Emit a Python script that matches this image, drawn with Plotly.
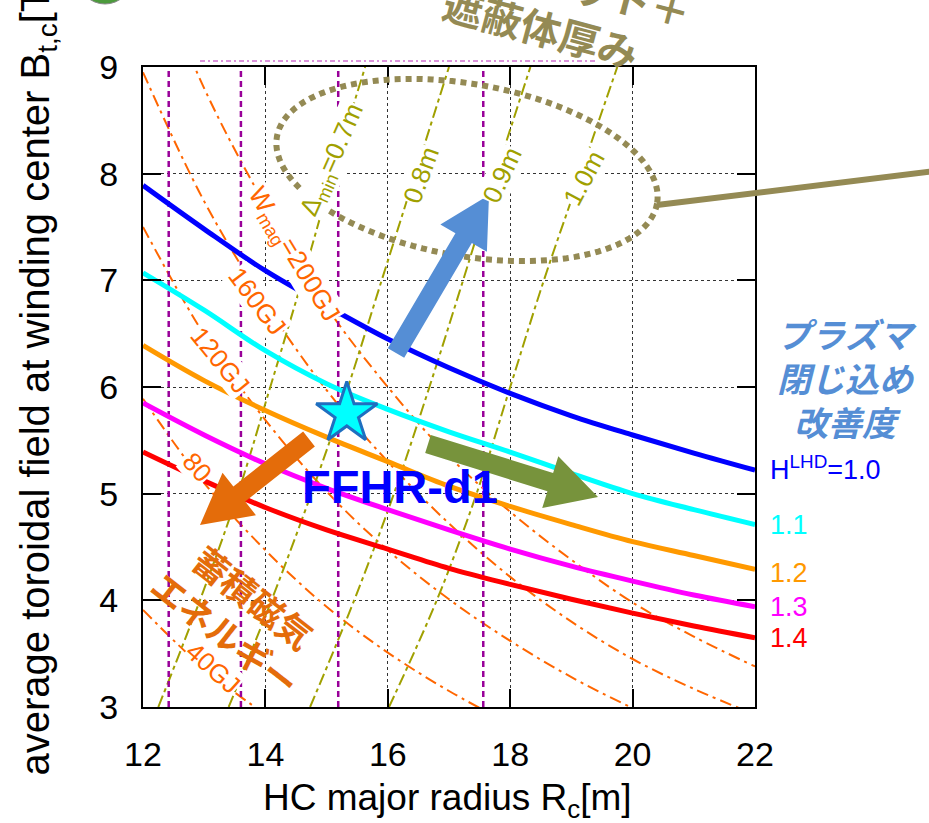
import numpy as np
import plotly.graph_objects as go

# ---- confinement-improvement curves: B_t,c vs R_c for each H^LHD ----
R_H = [12, 13, 14, 15, 16, 17, 18, 19, 20, 21, 22]
B_H10 = [7.89, 7.48, 7.09, 6.76, 6.45, 6.18, 5.94, 5.73, 5.55, 5.38, 5.22]
B_H11 = [7.07, 6.72, 6.34, 6.03, 5.79, 5.58, 5.39, 5.19, 5.00, 4.85, 4.71]
B_H12 = [6.39, 6.06, 5.78, 5.53, 5.30, 5.07, 4.88, 4.71, 4.55, 4.42, 4.29]
B_H13 = [5.85, 5.55, 5.28, 5.05, 4.85, 4.66, 4.48, 4.32, 4.18, 4.05, 3.94]
B_H14 = [5.39, 5.12, 4.87, 4.66, 4.48, 4.30, 4.15, 4.01, 3.88, 3.76, 3.65]
H_LABELS = ["H<sup>LHD</sup>=1.0", "1.1", "1.2", "1.3", "1.4"]
H_COLORS = ["#0000FF", "#00FFFF", "#FF9900", "#FF00FF", "#FF0000"]

# ---- stored magnetic energy contours W_mag ----
W40_R = [12, 13, 14]
W40_B = [3.91, 3.36, 2.93]
W80_R = [12, 13, 14, 15, 16, 17, 18]
W80_B = [5.89, 5.10, 4.47, 3.94, 3.51, 3.15, 2.84]
W120_R = [12, 13, 14, 15, 16, 17, 18, 19, 20, 21]
W120_B = [7.50, 6.49, 5.69, 5.02, 4.47, 4.01, 3.62, 3.28, 2.99, 2.74]
W160_R = [12, 13, 14, 15, 16, 17, 18, 19, 20, 21, 22]
W160_B = [8.95, 7.74, 6.78, 5.97, 5.30, 4.72, 4.22, 3.80, 3.45, 3.17, 2.93]
W200_R = [12, 13, 14, 15, 16, 17, 18, 19, 20, 21, 22]
W200_B = [10.2, 8.80, 7.70, 6.75, 6.00, 5.35, 4.83, 4.38, 3.98, 3.66, 3.38]

# ---- blanket + shield thickness contours Delta_min ----
D_B = [3, 4, 5, 6, 7, 8, 9]
D07_R = [12.25, 12.93, 13.55, 14.08, 14.60, 15.10, 15.63]
D08_R = [13.40, 14.10, 14.75, 15.35, 15.90, 16.45, 17.00]
D09_R = [14.73, 15.45, 16.10, 16.68, 17.23, 17.77, 18.33]
D10_R = [16.02, 16.80, 17.45, 18.00, 18.55, 19.15, 19.75]

# ---- vertical reference radii ----
V_R = [12.42, 13.60, 15.19, 17.56]

# ---- design point ----
FFHR_R = [15.33]
FFHR_B = [5.75]

X_TICKS = [12, 14, 16, 18, 20, 22]
Y_TICKS = [3, 4, 5, 6, 7, 8, 9]

# ---- page geometry (plot area in pixels) ----
W, H = 929, 823
L, T, RGT, BOT = 143, 67, 755, 707


def px(xp):
    return (xp - L) / (RGT - L)


def py(yp):
    return (BOT - yp) / (BOT - T)


ORANGE = "#FF6600"
OLIVE = "#A0A000"
KHAKI = "#948A54"
FONT = "Liberation Sans, Arial, sans-serif"
JP = "Noto Sans CJK JP, sans-serif"

fig = go.Figure()

# energy contours
for rr, bb in [(W40_R, W40_B), (W80_R, W80_B), (W120_R, W120_B),
               (W160_R, W160_B), (W200_R, W200_B)]:
    fig.add_trace(go.Scatter(x=rr, y=bb, mode="lines",
                             line=dict(color=ORANGE, width=2, dash="12px,5px,3px,5px",
                                       shape="spline"),
                             hoverinfo="skip"))

# thickness contours
for rr in [D07_R, D08_R, D09_R, D10_R]:
    fig.add_trace(go.Scatter(x=rr, y=D_B, mode="lines",
                             line=dict(color=OLIVE, width=2, dash="12px,4px,4px,4px",
                                       shape="spline"),
                             hoverinfo="skip"))

# vertical radii
for r in V_R:
    fig.add_trace(go.Scatter(x=[r, r], y=[3, 9], mode="lines",
                             line=dict(color="#990099", width=2.5, dash="6px,4px"),
                             hoverinfo="skip"))

# H^LHD curves
for bb, col in zip([B_H10, B_H11, B_H12, B_H13, B_H14], H_COLORS):
    fig.add_trace(go.Scatter(x=R_H, y=bb, mode="lines",
                             line=dict(color=col, width=5, shape="spline"),
                             hoverinfo="skip"))

# design point star
fig.add_trace(go.Scatter(x=FFHR_R, y=FFHR_B, mode="markers",
                         marker=dict(symbol="star", size=46, color="#00FFFF",
                                     line=dict(color="#1F6FC0", width=3)),
                         hoverinfo="skip"))

ann = []


def label(text, xp, yp, size, color, angle=0, bg=None, xanchor="center",
          yanchor="middle", family=FONT, bold=False, italic=False, align="center"):
    d = dict(text=text, xref="paper", yref="paper", x=px(xp), y=py(yp),
             showarrow=False, textangle=angle, xanchor=xanchor, yanchor=yanchor,
             align=align,
             font=dict(size=size, color=color, family=family,
                       weight="bold" if bold else "normal",
                       style="italic" if italic else "normal"))
    if bg:
        d.update(bgcolor=bg, borderpad=0)
    ann.append(d)


# contour labels
label("W<sub>mag</sub>=200GJ", 293, 255, 26, ORANGE, 59, "white")
label("160GJ", 257, 301, 26, ORANGE, 53, "white")
label("120GJ", 220, 360, 26, ORANGE, 51, "white")
label("80", 197, 467, 26, ORANGE, 48, "white")
label("40GJ", 213, 668, 26, ORANGE, 42, "white")
label("\u0394<sub>min</sub>=0.7m", 333, 160, 26, OLIVE, -66, "white")
label("0.8m", 421, 175, 26, OLIVE, -70, "white")
label("0.9m", 502, 175, 26, OLIVE, -65, "white")
label("1.0m", 584, 178, 26, OLIVE, -62, "white")

# H^LHD values on the right
for txt, col, yp in zip(H_LABELS, H_COLORS, [468, 525, 573, 607, 638]):
    label(txt, 768, yp, 27, col, xanchor="left")

label("プラズマ<br>閉じ込め<br>改善度", 847, 377, 34, "#558ED5",
      family=JP, bold=True, italic=True)

label("FFHR-d1", 400, 486, 47, "#0000FF", bold=True)

label("蓄積磁気<br>エネルギー", 240, 614, 35, "#E46C0A", 38, family=JP, bold=True)

label("ブランケット＋<br>遮蔽体厚み", 548, 2, 40, KHAKI, 15, family=JP, bold=True)

# axis titles
label("HC major radius R<sub>c</sub>[m]", 447, 800, 37, "black")
label("average toroidal field at winding center B<sub>t,c</sub>[T]", 37, 778, 40,
      "black", -90, yanchor="bottom")

shapes = []


def arrow_path(tail, tip, sw, hw, hl):
    tx, ty = tail
    hx, hy = tip
    ln = np.hypot(hx - tx, hy - ty)
    ux, uy = (hx - tx) / ln, (hy - ty) / ln
    nx, ny = -uy, ux
    bx, by = hx - ux * hl, hy - uy * hl
    pts = [(tx + nx * sw / 2, ty + ny * sw / 2), (bx + nx * sw / 2, by + ny * sw / 2),
           (bx + nx * hw / 2, by + ny * hw / 2), (hx, hy),
           (bx - nx * hw / 2, by - ny * hw / 2), (bx - nx * sw / 2, by - ny * sw / 2),
           (tx - nx * sw / 2, ty - ny * sw / 2)]
    return "M " + " L ".join(f"{px(a):.5f},{py(b):.5f}" for a, b in pts) + " Z"


# dotted ellipse around the thickness labels
th = np.radians(10)
t = np.linspace(0, 2 * np.pi, 121)
ex = 467 + 193 * np.cos(t) * np.cos(th) - 86 * np.sin(t) * np.sin(th)
ey = 170 + 193 * np.cos(t) * np.sin(th) + 86 * np.sin(t) * np.cos(th)
epath = "M " + " L ".join(f"{px(a):.5f},{py(b):.5f}" for a, b in zip(ex, ey)) + " Z"
shapes.append(dict(type="path", path=epath, xref="paper", yref="paper", layer="above",
                   line=dict(color=KHAKI, width=6, dash="6px,5px")))
shapes.append(dict(type="line", xref="paper", yref="paper", layer="above",
                   x0=px(657), y0=py(205), x1=px(935), y1=py(171),
                   line=dict(color=KHAKI, width=6)))

for tail, tip, col in [((396, 353), (489, 195), "#558ED5"),
                       ((428, 444), (598, 497), "#77933C"),
                       ((309, 439), (200, 525), "#E46C0A")]:
    shapes.append(dict(type="path", path=arrow_path(tail, tip, 19, 54, 50),
                       xref="paper", yref="paper", layer="above",
                       fillcolor=col, line=dict(width=0)))

# dash-dot rule above the frame and partial emblem at the top edge
shapes.append(dict(type="line", xref="paper", yref="paper", layer="above",
                   x0=px(200), y0=py(61), x1=px(597), y1=py(61),
                   line=dict(color="#D070D0", width=1.5, dash="5px,3px,2px,3px")))
shapes.append(dict(type="circle", xref="paper", yref="paper", layer="above",
                   x0=px(78), x1=px(132), y0=py(-50), y1=py(4),
                   fillcolor="#4C9A3C", line=dict(color="#8A8A8A", width=1)))

axis_common = dict(showline=True, linecolor="black", linewidth=2, mirror="ticks",
                   ticks="inside", ticklen=18, tickwidth=2, tickcolor="black",
                   showgrid=True, gridcolor="#333333", gridwidth=1, griddash="3px,3px",
                   zeroline=False, ticklabelstandoff=16,
                   tickfont=dict(size=34, family=FONT, color="black"))

fig.update_layout(
    width=W, height=H,
    margin=dict(l=L, r=W - RGT, t=T, b=H - BOT),
    paper_bgcolor="white", plot_bgcolor="white",
    showlegend=False,
    xaxis=dict(range=[12, 22], tickvals=X_TICKS, **axis_common),
    yaxis=dict(range=[3, 9], tickvals=Y_TICKS, **axis_common),
    annotations=ann, shapes=shapes,
)

fig.write_html("out.html")
